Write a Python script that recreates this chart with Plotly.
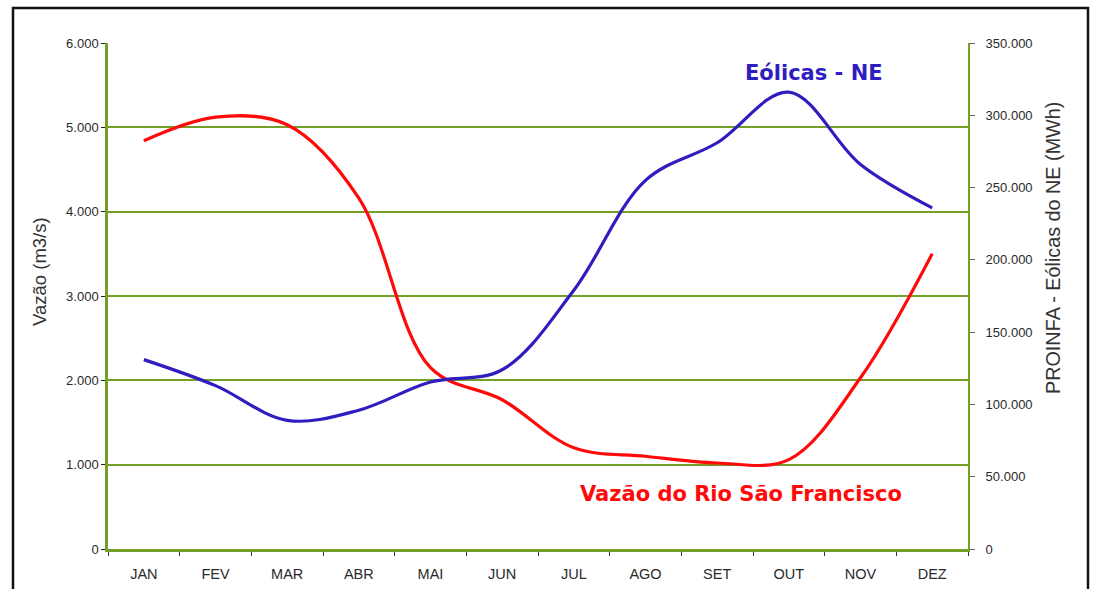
import plotly.graph_objects as go

meses = ["JAN", "FEV", "MAR", "ABR", "MAI", "JUN", "JUL", "AGO", "SET", "OUT", "NOV", "DEZ"]
vazao_sf = [4840, 5120, 5030, 4160, 2150, 1770, 1200, 1100, 1020, 1060, 2030, 3500]
eolicas_ne = [131000, 113000, 89000, 96000, 115500, 124000, 179000, 255000, 281000, 316000, 266000, 236000]

GREEN = "#74a02a"
RED = "#ff0a0a"
BLUE = "#2f1dbf"
FONT = "Liberation Sans, Arial, sans-serif"
BOLD_FONT = "DejaVu Sans, Verdana, sans-serif"
TXT = "#2a2a2a"

# plot area in pixels
L, R, T, B = 108, 968, 43, 549
W, H = R - L, B - T

fig = go.Figure()
fig.add_trace(go.Scatter(
    x=meses, y=vazao_sf, mode="lines", name="Vazão do Rio São Francisco",
    line=dict(color=RED, width=3.2, shape="spline", smoothing=1.0),
    yaxis="y",
))
fig.add_trace(go.Scatter(
    x=meses, y=eolicas_ne, mode="lines", name="Eólicas - NE",
    line=dict(color=BLUE, width=3.2, shape="spline", smoothing=1.0),
    yaxis="y2",
))

fig.update_layout(
    width=1093, height=589,
    margin=dict(l=L, r=1093 - R, t=T, b=589 - B, autoexpand=False),
    paper_bgcolor="white", plot_bgcolor="white",
    showlegend=False,
    separators=",.",
    font=dict(family=FONT, size=13, color=TXT),
    xaxis=dict(
        type="category", range=[-0.5, 11.5], automargin=False,
        showline=True, linecolor=GREEN, linewidth=2.5,
        ticks="outside", tickson="boundaries", ticklen=4, tickcolor="#333",
        showgrid=False, zeroline=False,
        ticklabelstandoff=10,
        tickfont=dict(size=14.5, color=TXT),
    ),
    yaxis=dict(
        range=[0, 6000], dtick=1000, tickformat=",d", automargin=False,
        showline=True, linecolor=GREEN, linewidth=2.5,
        ticks="outside", ticklen=4, tickcolor="#222",
        showgrid=True, gridcolor=GREEN, gridwidth=2,
        zeroline=False,
        tickfont=dict(size=13, color=TXT),
    ),
    yaxis2=dict(
        range=[0, 350000], dtick=50000, tickformat=",d", automargin=False,
        overlaying="y", side="right", anchor="x",
        showline=True, linecolor=GREEN, linewidth=2,
        ticks="outside", ticklen=5, tickcolor="#666",
        showgrid=False, zeroline=False,
        ticklabelstandoff=8,
        tickfont=dict(size=13, color=TXT),
    ),
    shapes=[dict(
        type="rect", xref="paper", yref="paper",
        x0=(13 - L) / W, x1=(1088 - L) / W,
        y0=-0.3, y1=(B - 8) / H,
        line=dict(color="#111", width=2.5), fillcolor="rgba(0,0,0,0)", layer="below",
    )],
    annotations=[
        dict(text="Vazão (m3/s)", x=(39 - L) / W, y=(B - 272) / H, xref="paper", yref="paper",
             xanchor="center", yanchor="middle", textangle=-90, showarrow=False,
             font=dict(size=18.5, color="#333", family=FONT)),
        dict(text="PROINFA - Eólicas do NE (MWh)", x=(1053 - L) / W, y=(B - 248) / H,
             xref="paper", yref="paper", xanchor="center", yanchor="middle",
             textangle=-90, showarrow=False,
             font=dict(size=19.8, color="#333", family=FONT)),
        dict(text="<b>Eólicas - NE</b>", x=9.35, y=(B - 73) / H, xref="x", yref="paper",
             yanchor="middle", showarrow=False, font=dict(size=21, color=BLUE, family=BOLD_FONT)),
        dict(text="<b>Vazão do Rio São Francisco</b>", x=8.33, y=(B - 494) / H, xref="x", yref="paper",
             yanchor="middle", showarrow=False, font=dict(size=21, color=RED, family=BOLD_FONT)),
    ],
)

fig.write_html("out.html")
